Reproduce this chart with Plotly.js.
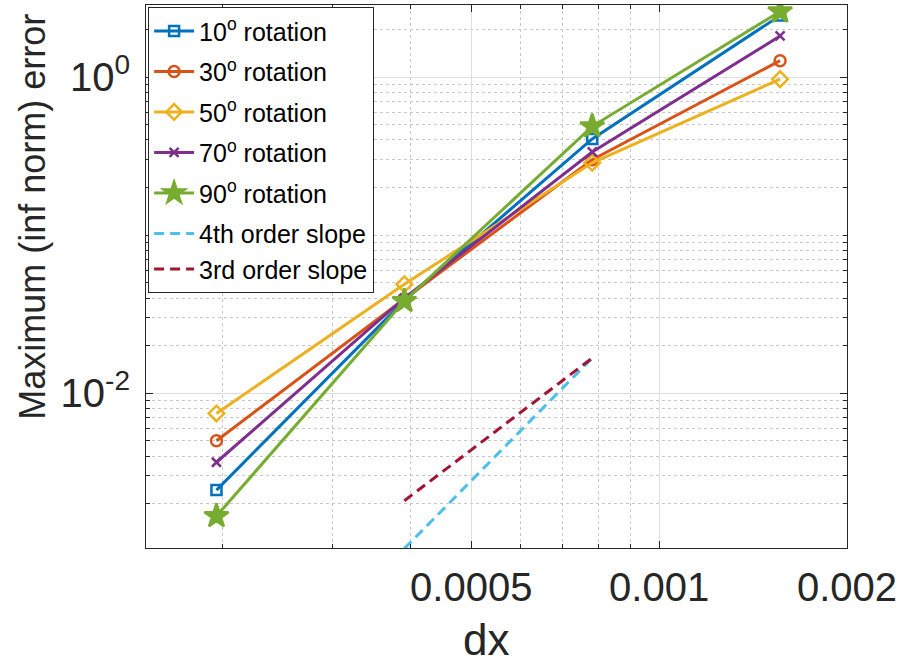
<!DOCTYPE html>
<html>
<head>
<meta charset="utf-8">
<script src="https://cdn.plot.ly/plotly-3.0.1.min.js"></script>
<style>html,body{margin:0;padding:0;background:#fff;}</style>
</head>
<body>
<div id="chart" style="width:899px;height:665px;"></div>
<script>
// ---- data ----
const dx = [1.953125e-4, 3.90625e-4, 7.8125e-4, 1.5625e-3];
const err10 = [0.00244, 0.0385, 0.406, 2.45];
const err30 = [0.00501, 0.0395, 0.300, 1.27];
const err50 = [0.00745, 0.0489, 0.287, 0.97];
const err70 = [0.00366, 0.0400, 0.336, 1.82];
const err90 = [0.00167, 0.0383, 0.488, 2.60];
const slopeX = [3.90625e-4, 7.8125e-4];
const slope4Y = [0.00104, 0.0167];
const slope3Y = [0.00209, 0.0167];
const seriesNames = ['10<sup>o</sup> rotation', '30<sup>o</sup> rotation', '50<sup>o</sup> rotation',
                     '70<sup>o</sup> rotation', '90<sup>o</sup> rotation', '4th order slope', '3rd order slope'];
const xTickVals = [0.0005, 0.001, 0.002];
const xTickText = ['0.0005', '0.001', '0.002'];
const yTickVals = [0.01, 1];
const yTickText = ['10<sup>-2</sup>', '10<sup>0</sup>'];
const xMinorVals = [2e-4, 3e-4, 4e-4, 6e-4, 7e-4, 8e-4, 9e-4];
const yMinorVals = [2e-3, 3e-3, 4e-3, 5e-3, 6e-3, 7e-3, 8e-3, 9e-3,
                    2e-2, 3e-2, 4e-2, 5e-2, 6e-2, 7e-2, 8e-2, 9e-2, 0.1,
                    0.2, 0.3, 0.4, 0.5, 0.6, 0.7, 0.8, 0.9, 2];

const colors = ['#0072BD', '#D95319', '#EDB120', '#7E2F8E', '#77AC30', '#4DBEEE', '#A2142F'];
const LW = 3;
const FONT = 'Liberation Sans, Arial, Helvetica, sans-serif';

function series(y, i, symbol, size, grp) {
  return {
    x: dx, y: y, type: 'scatter', mode: 'lines+markers', name: seriesNames[i],
    legendgroup: grp,
    line: {color: colors[i], width: LW},
    marker: {symbol: symbol, size: size, color: colors[i], line: {color: colors[i], width: 2.5}}
  };
}

const traces = [
  series(err10, 0, 'square-open', 10, 'g1'),
  series(err30, 1, 'circle-open', 11, 'g2'),
  series(err50, 2, 'diamond-open', 12, 'g3'),
  series(err70, 3, 'x-thin-open', 9, 'g4'),
  series(err90, 4, 'star', 18, 'g5'),
  {x: slopeX, y: slope4Y, type: 'scatter', mode: 'lines', name: seriesNames[5], legendgroup: 'g6',
   line: {color: colors[5], width: LW, dash: '10px,6px'}},
  {x: slopeX, y: slope3Y, type: 'scatter', mode: 'lines', name: seriesNames[6], legendgroup: 'g6',
   line: {color: colors[6], width: LW, dash: '10px,6px'}}
];

const axisCommon = {
  type: 'log',
  showline: true, linecolor: '#262626', linewidth: 1, mirror: 'ticks',
  ticks: 'inside', ticklen: 7, tickcolor: '#262626', tickwidth: 1,
  showgrid: true, gridcolor: '#dedede', gridwidth: 1,
  zeroline: false,
  tickfont: {family: FONT, size: 40, color: '#262626'}
};

const layout = {
  width: 899, height: 665,
  margin: {l: 146, r: 52, t: 5, b: 117},
  paper_bgcolor: '#ffffff', plot_bgcolor: '#ffffff',
  showlegend: true,
  legend: {
    x: 0.003, y: 0.996, xanchor: 'left', yanchor: 'top',
    bgcolor: '#ffffff', bordercolor: '#262626', borderwidth: 1,
    font: {family: FONT, size: 25, color: '#000000'},
    tracegroupgap: 5, itemwidth: 40, traceorder: 'grouped'
  },
  xaxis: Object.assign({}, axisCommon, {
    range: [Math.log10(1.506e-4), Math.log10(0.002)],
    tickmode: 'array', tickvals: xTickVals, ticktext: xTickText,
    ticklabelstandoff: 4,
    minor: {tickmode: 'array', tickvals: xMinorVals, ticks: 'inside', ticklen: 4, tickcolor: '#262626',
            showgrid: true, gridcolor: '#c8c8c8', griddash: 'dot', gridwidth: 1},
    title: {text: ''}
  }),
  yaxis: Object.assign({}, axisCommon, {
    range: [-2.979, 0.456],
    tickmode: 'array', tickvals: yTickVals, ticktext: yTickText,
    ticklabelstandoff: 7,
    minor: {tickmode: 'array', tickvals: yMinorVals, ticks: 'inside', ticklen: 4, tickcolor: '#262626',
            showgrid: true, gridcolor: '#c8c8c8', griddash: 'dot', gridwidth: 1},
    title: {text: ''}
  }),
  annotations: [
    {text: 'Maximum (inf norm) error', xref: 'paper', yref: 'paper',
     x: -0.1613, y: 0.6098, xanchor: 'center', yanchor: 'middle', textangle: -90, showarrow: false,
     font: {family: FONT, size: 36, color: '#262626'}},
    {text: 'dx', xref: 'paper', yref: 'paper',
     x: 0.4852, y: -0.1688, xanchor: 'center', yanchor: 'middle', showarrow: false,
     font: {family: FONT, size: 44, color: '#262626'}}
  ]
};

Plotly.newPlot('chart', traces, layout, {displayModeBar: false, staticPlot: true});
</script>
</body>
</html>
